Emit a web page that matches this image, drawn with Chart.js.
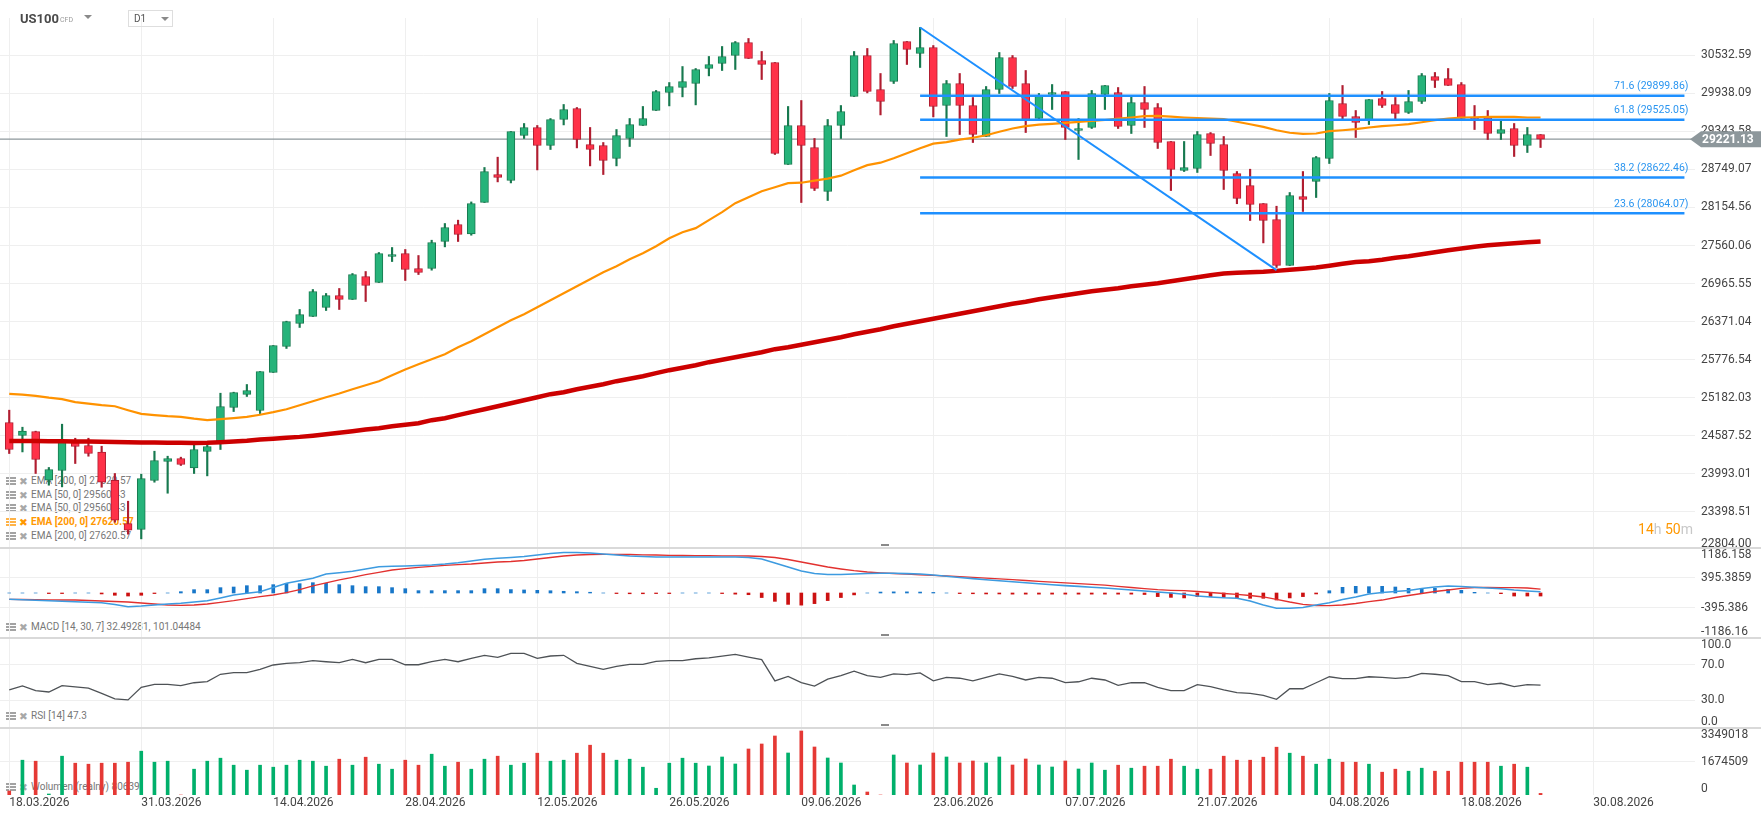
<!DOCTYPE html>
<html>
<head>
<meta charset="utf-8">
<script src="https://cdn.jsdelivr.net/npm/chart.js@4.4.1/dist/chart.umd.min.js"></script>
<style>
  html, body { margin: 0; padding: 0; background: #fff; }
  body { width: 1761px; height: 820px; position: relative; overflow: hidden; font-family: Roboto, "DejaVu Sans", sans-serif; }
  canvas { position: absolute; left: 0; z-index: 1; }
  .leg { position: absolute; left: 0; height: 12px; line-height: 12px; font-size: 10px; color: #777; white-space: nowrap; z-index: 0; }
  .leg .ic { position: absolute; left: 6px; top: 2px; width: 10px; height: 2px; background: #a3a3a3; box-shadow: 0 3px 0 #a3a3a3, 0 6px 0 #a3a3a3; }
  .leg .x { position: absolute; left: 19px; top: 0; font-family: "DejaVu Sans"; font-size: 10.5px; color: #a8a8a8; }
  .leg .t { position: absolute; left: 31px; }
  .leg.on .t, .leg.on .x { color: #ff9800; font-weight: bold; }
  .leg.on .ic { background: #ffb347; box-shadow: 0 3px 0 #ffb347, 0 6px 0 #ffb347; }
  .sep { position: absolute; left: 0; width: 1761px; height: 2px; background: #d9d9d9; z-index: 2; }
  .grip { position: absolute; left: 881px; width: 8px; height: 2px; background: #8a8a8a; z-index: 2; }
  #head { position: absolute; left: 20px; top: 8px; z-index: 2; color: #4a4a4a; }
  #sym { font-weight: bold; font-size: 13px; }
  #cfd { position: absolute; left: 40px; top: 8px; font-size: 7px; color: #999; }
  .tri { position: absolute; width: 0; height: 0; border-left: 4px solid transparent; border-right: 4px solid transparent; border-top: 4px solid #8a8a8a; }
  #tf { position: absolute; left: 128px; top: 10px; width: 43px; height: 15px; border: 1px solid #dedede; z-index: 2; font-size: 10px; color: #555; }
  #timer { position: absolute; right: 68px; top: 521px; font-size: 14px; z-index: 2; color: #c8c8c8; }
  #timer b { font-weight: normal; color: #ff9800; }
</style>
</head>
<body>
<div id="head"><span id="sym">US100</span><span id="cfd">CFD</span><span class="tri" style="left:64px;top:7px"></span></div>
<div id="tf"><span style="position:absolute;left:5px;top:2px">D1</span><span class="tri" style="left:32px;top:6px"></span></div>

<div class="leg" style="top:475px"><span class="ic"></span><span class="x">✖</span><span class="t">EMA [200, 0] 27620.57</span></div>
<div class="leg" style="top:489px"><span class="ic"></span><span class="x">✖</span><span class="t">EMA [50, 0] 29560.43</span></div>
<div class="leg" style="top:502px"><span class="ic"></span><span class="x">✖</span><span class="t">EMA [50, 0] 29560.43</span></div>
<div class="leg on" style="top:516px"><span class="ic"></span><span class="x">✖</span><span class="t">EMA [200, 0] 27620.57</span></div>
<div class="leg" style="top:530px"><span class="ic"></span><span class="x">✖</span><span class="t">EMA [200, 0] 27620.57</span></div>
<div class="leg" style="top:621px"><span class="ic"></span><span class="x">✖</span><span class="t">MACD [14, 30, 7] 32.49281, 101.04484</span></div>
<div class="leg" style="top:710px"><span class="ic"></span><span class="x">✖</span><span class="t">RSI [14] 47.3</span></div>
<div class="leg" style="top:781px"><span class="ic"></span><span class="x">✖</span><span class="t">Wolumen (realny) 80639</span></div>

<div id="timer"><b>14</b>h <b>50</b>m</div>

<canvas id="cMain" width="1761" height="532" style="top:18px"></canvas>
<canvas id="cMacd" width="1761" height="90" style="top:548px"></canvas>
<canvas id="cRsi" width="1761" height="90" style="top:638px"></canvas>
<canvas id="cVol" width="1761" height="92" style="top:728px"></canvas>

<div class="sep" style="top:547px"></div>
<div class="sep" style="top:637px"></div>
<div class="sep" style="top:727px"></div>
<div class="grip" style="top:544px"></div>
<div class="grip" style="top:634px"></div>
<div class="grip" style="top:724px"></div>

<script>
// date labels sit on every 10th candle
const dateLabels = ["18.03.2026", "31.03.2026", "14.04.2026", "28.04.2026", "12.05.2026", "26.05.2026",
  "09.06.2026", "23.06.2026", "07.07.2026", "21.07.2026", "04.08.2026", "18.08.2026", "30.08.2026"];

const opens = [24796,24593,24655,23894,24046,24499,24436,24332,23894,23218,
  23124,23890,24187,24233,24087,24343,24468,25030,25233,24983,
  25577,25983,26342,26451,26592,26779,26717,27076,26982,27389,
  27436,27201,27201,27623,27888,27742,28232,28669,28576,29279,
  29404,29122,29529,29700,29138,29122,28919,29232,29435,29669,
  29950,30028,30091,30325,30403,30528,30731,30450,30419,28826,
  29435,29091,28404,29435,29888,30528,29997,30122,30747,30559,
  30653,29747,30091,29747,29263,29997,30497,30091,29544,29919,
  29966,29357,29404,29919,29950,29435,29794,29716,29185,28732,
  28763,29310,29138,28685,28498,28216,27967,27248,28326,28560,
  28919,29778,29575,29513,29857,29763,29638,29810,30200,30169,
  30075,29560,29560,29310,29388,29122,29294];
const highs = [24988,24722,24660,24093,24769,24550,24550,24425,23999,23566,
  23988,24347,24269,24254,24457,24483,25253,25269,25389,25592,
  25998,26378,26561,26873,26811,26889,27123,27154,27451,27529,
  27498,27404,27643,27904,27956,28241,28779,28940,29341,29466,
  29435,29544,29763,29716,29404,29169,29372,29544,29732,29982,
  30106,30356,30325,30513,30669,30747,30794,30591,30419,29732,
  29825,29232,29529,29747,30591,30638,30247,30763,30747,30966,
  30684,30138,30247,29872,30044,30575,30528,30294,29935,30075,
  29966,29544,29982,30060,30028,29903,30044,29778,29185,29185,
  29341,29325,29263,28716,28752,28216,28174,28388,28716,28951,
  29935,30060,29669,29841,29966,29872,29982,30247,30263,30325,
  30106,29747,29669,29529,29466,29404,29294];
const lows = [24311,24336,23999,23816,23790,24155,24269,23785,23238,23051,
  22978,23863,23691,24124,23999,23962,24374,24967,25202,24936,
  25577,25952,26280,26451,26545,26561,26717,26686,26982,27310,
  27014,27107,27175,27539,27623,27721,28232,28554,28538,29232,
  28741,29060,29444,29085,28804,28669,28804,29107,29435,29669,
  29741,29882,29757,30210,30294,30310,30481,30153,28982,28826,
  28232,28419,28263,29232,29888,29944,29600,30091,30388,30341,
  29569,29263,29294,29169,29263,29935,30013,29325,29529,29685,
  29216,28904,29388,29685,29388,29310,29404,29076,28419,28716,
  28701,28966,28435,28213,27951,27601,27217,27248,28092,28310,
  28841,29529,29247,29450,29716,29538,29622,29778,30028,30060,
  29529,29372,29216,29216,28951,29013,29091];
const closes = [24374,24660,24218,24062,24515,24421,24311,23863,23270,23113,
  23921,24202,24233,24140,24374,24421,25046,25264,25296,25592,
  25998,26373,26483,26842,26779,26717,27107,26936,27436,27420,
  27186,27139,27607,27842,27732,28216,28716,28623,29341,29404,
  29122,29529,29685,29216,29060,28888,29279,29450,29544,29966,
  30044,30122,30310,30388,30513,30731,30481,30388,28997,29435,
  29122,28451,29435,29654,30528,29966,29810,30716,30622,30653,
  29732,30091,29747,29294,29997,30497,30044,29529,29903,29950,
  29404,29388,29935,30060,29419,29794,29685,29169,28748,28779,
  29294,29154,28732,28295,28201,27951,27248,28341,28279,28935,
  29825,29575,29482,29841,29747,29622,29810,30216,30138,30060,
  29544,29529,29310,29372,29122,29294,29221.13];

const ema50 = [25242,25230,25211,25183,25160,25113,25089,25066,25050,24988,
  24930,24910,24894,24883,24855,24832,24847,24863,24883,24917,
  24957,25003,25066,25128,25191,25249,25316,25378,25441,25534,
  25623,25706,25784,25863,25972,26066,26175,26284,26394,26487,
  26597,26706,26815,26925,27034,27143,27237,27346,27440,27549,
  27674,27768,27831,27956,28081,28221,28315,28409,28471,28534,
  28541,28573,28604,28651,28737,28815,28854,28924,29002,29080,
  29151,29174,29213,29244,29283,29338,29388,29424,29447,29460,
  29475,29491,29505,29521,29544,29560,29580,29585,29572,29560,
  29552,29544,29533,29494,29455,29413,29361,29322,29304,29310,
  29346,29361,29377,29404,29424,29439,29455,29486,29518,29541,
  29560,29564,29569,29569,29569,29560,29560];
const ema200 = [24508,24507,24505,24504,24504,24500,24497,24494,24491,24488,
  24485,24482,24480,24479,24477,24480,24488,24499,24511,24530,
  24543,24558,24571,24590,24613,24636,24660,24686,24707,24738,
  24761,24785,24832,24863,24910,24957,25003,25050,25097,25144,
  25191,25238,25269,25316,25355,25394,25441,25480,25519,25566,
  25613,25652,25691,25738,25777,25816,25855,25894,25941,25972,
  26011,26050,26089,26128,26175,26214,26253,26300,26339,26378,
  26417,26456,26495,26534,26573,26612,26651,26683,26722,26753,
  26784,26815,26847,26870,26893,26925,26948,26972,27003,27034,
  27065,27096,27123,27136,27143,27151,27164,27182,27198,27217,
  27245,27276,27304,27315,27339,27370,27393,27425,27456,27487,
  27514,27542,27565,27581,27596,27612,27621];

const macdLine = [-166,-179,-190,-203,-216,-229,-243,-256,-303,-361,
  -343,-316,-290,-272,-237,-203,-132,-53,-8,34,
  145,256,322,388,501,535,572,633,693,704,
  712,725,738,764,799,844,888,915,936,962,
  1002,1041,1068,1068,1054,1028,1002,975,962,949,
  949,949,949,949,949,949,936,896,791,685,
  580,514,488,488,501,514,519,519,511,501,
  474,443,409,380,351,322,295,269,243,219,
  195,174,153,132,105,79,53,26,0,-34,
  -79,-105,-127,-140,-211,-316,-403,-403,-382,-316,
  -256,-171,-105,-26,13,40,66,119,158,185,
  171,150,132,113,79,53,32.49];
const signalLine = [-166,-171,-177,-182,-185,-185,-198,-211,-224,-237,
  -264,-290,-316,-324,-316,-290,-245,-203,-150,-98,
  -53,8,92,185,264,343,414,482,546,606,
  643,677,704,730,746,764,791,817,830,857,
  896,936,975,1002,1015,1020,1020,1015,1007,1002,
  994,989,986,983,981,981,975,962,936,883,
  817,751,685,633,588,554,532,514,496,480,
  464,448,430,411,393,372,351,330,308,287,
  266,248,229,206,177,145,113,87,71,61,
  40,13,-13,-34,-66,-105,-166,-237,-298,-330,
  -335,-316,-277,-229,-185,-119,-66,-13,40,79,
  124,145,145,140,140,132,101.04];
const macdHist = [0,0,0,-15,-15,0,0,-25,-60,-80,
  -60,-15,0,35,88,88,141,158,193,193,
  220,255,246,272,255,220,193,167,167,141,
  114,62,62,62,62,62,114,114,90,80,
  70,60,45,35,20,0,-15,-20,-20,-15,
  -15,0,0,0,-15,-30,-45,-120,-220,-300,
  -320,-280,-200,-120,-50,0,25,30,30,25,
  15,0,-15,-20,-25,-25,-30,-30,-30,-30,
  -30,-30,-30,-30,-30,-30,-40,-95,-115,-130,
  -95,-95,-115,-130,-140,-140,-185,-130,-95,-25,
  60,150,176,167,176,158,123,123,123,97,
  70,18,0,-18,-80,-80,-80];

const rsiValues = [41.7,46.2,40.9,39.4,46.6,45.1,43.9,37.9,31.5,30.4,
  44.7,48.1,48.1,46.6,49.9,51.1,59.5,61.3,61.3,65.1,
  70,71.9,72.6,74.9,73.7,72.6,76.4,72.6,76.4,76.4,
  70.3,70.3,73.7,76.4,73.7,77.6,81,78.7,83.2,83.2,
  77.6,80.2,81,71.9,68.5,65.1,68.5,70.8,70.8,74.2,
  75,75,77.1,78,80,82,79,76,52,57,
  50,46,54,58,63,58,56,60,59,61,
  52,56,55,52,56,60,57,53,56,55,
  50,51,55,53,47,49.9,49.9,44.7,40.9,40.9,
  47.7,45.4,41.7,38.6,37.9,35.7,31.1,43.1,43.1,49.9,
  56.7,54.5,54.5,56.7,56,54.9,56,60.6,59.5,57.9,
  51.1,51.1,47.7,49.3,45.4,47.7,47.3];

const volumes = [200000,1740000,1690000,50000,1940000,1590000,1540000,1590000,1590000,1640000,
  2190000,1640000,1690000,0,1290000,1690000,1840000,1490000,1240000,1490000,
  1390000,1490000,1740000,1690000,1440000,1790000,1490000,1890000,1540000,1290000,
  1740000,1490000,2040000,1440000,1640000,1290000,1790000,1940000,1490000,1590000,
  2090000,1690000,1740000,2090000,2490000,2090000,1740000,1790000,1390000,336000,
  1590000,1840000,1590000,1450000,1900000,1550000,2300000,2550000,2950000,2100000,
  3200000,2400000,1850000,1600000,500000,150000,0,2000000,1600000,1500000,
  2100000,1900000,1600000,1700000,1600000,1900000,1500000,1800000,1500000,1400000,
  1700000,1300000,1600000,1240000,1490000,1340000,1440000,1440000,1790000,1440000,
  1290000,1290000,1940000,1740000,1740000,1890000,2390000,2090000,1940000,1540000,
  1790000,1640000,1640000,1540000,1140000,1290000,1190000,1340000,1190000,1190000,
  1640000,1640000,1640000,1440000,1540000,1390000,80639];

const priceTicks = [22804.00, 23398.51, 23993.01, 24587.52, 25182.03, 25776.54, 26371.04,
  26965.55, 27560.06, 28154.56, 28749.07, 29343.58, 29938.09, 30532.59];
const macdTicks = [1186.158, 395.3859, -395.386, -1186.16];
const rsiTicks = [100, 70, 30, 0];
const volTicks = [3349018, 1674509, 0];

const fibLevels = [
  { pct: "71.6", value: 29899.86 },
  { pct: "61.8", value: 29525.05 },
  { pct: "38.2", value: 28622.46 },
  { pct: "23.6", value: 28064.07 }
];
const fibFrom = 69, fibTo = 126.9;
const trendLine = [{ x: 69, y: 30966 }, { x: 96, y: 27175 }];
const lastPrice = 29221.13;

const GREEN = "#26b37a", GREEN_EDGE = "#17794f", RED = "#ff3148", RED_EDGE = "#b01d30";
const GRID = "#efefef";
const idx = opens.map((_, i) => i);
const isUp = i => closes[i] >= opens[i];

Chart.defaults.font.family = "Roboto";

// right hand labels, kept inside their panel like the original
const axisLabels = {
  id: "axisLabels",
  afterDraw(chart, args, opts) {
    const { ctx, chartArea } = chart;
    const y = chart.scales.y;
    ctx.save();
    ctx.font = "12px Roboto";
    ctx.fillStyle = "#444";
    ctx.textAlign = "left";
    ctx.textBaseline = "middle";
    opts.values.forEach((v, i) => {
      let py = y.getPixelForValue(v);
      py = Math.min(Math.max(py, chartArea.top + 7), chartArea.bottom - 6);
      ctx.fillText(opts.labels[i], chartArea.right + 6, py);
    });
    ctx.restore();
  }
};

const mainExtras = {
  id: "mainExtras",
  afterDraw(chart) {
    const { ctx } = chart;
    const x = chart.scales.x, y = chart.scales.y;
    ctx.save();
    ctx.font = "10.5px Roboto";
    ctx.fillStyle = "#2a95f0";
    ctx.textAlign = "right";
    ctx.textBaseline = "middle";
    fibLevels.forEach(f => {
      ctx.fillText(f.pct + " (" + f.value.toFixed(2) + ")", x.getPixelForValue(fibTo) + 4, y.getPixelForValue(f.value) - 9);
    });
    // price tag
    const py = y.getPixelForValue(lastPrice);
    const left = chart.chartArea.right - 5;
    ctx.fillStyle = "#8d979b";
    ctx.beginPath();
    ctx.moveTo(left, py);
    ctx.lineTo(left + 11, py - 8);
    ctx.lineTo(chart.width, py - 8);
    ctx.lineTo(chart.width, py + 8);
    ctx.lineTo(left + 11, py + 8);
    ctx.closePath();
    ctx.fill();
    ctx.fillStyle = "#fff";
    ctx.font = "bold 12px Roboto";
    ctx.textAlign = "left";
    ctx.fillText(lastPrice.toFixed(2), left + 12, py + 0.5);
    ctx.restore();
  }
};

function xAxis(showLabels) {
  return {
    type: "linear", min: -0.7, max: 127.7, offset: false,
    grid: { color: GRID, drawTicks: false, offset: false },
    border: { display: false },
    afterBuildTicks: s => { s.ticks = dateLabels.map((_, k) => ({ value: k * 10 })); },
    ticks: showLabels
      ? { display: true, align: "start", maxRotation: 0, autoSkip: false, padding: 1, color: "#444",
          font: { size: 12 }, callback: v => dateLabels[Math.round(v / 10)] }
      : { display: false },
    afterFit: s => { s.height = showLabels ? 25 : 0; }
  };
}

function yAxis(min, max, gridValues) {
  return {
    position: "right", min, max,
    grid: { color: GRID, drawTicks: false },
    border: { display: false },
    ticks: { display: false },
    afterBuildTicks: s => { s.ticks = gridValues.map(v => ({ value: v })); },
    afterFit: s => { s.width = 66; }
  };
}

function baseOptions(labelValues, labelTexts) {
  return {
    responsive: false, animation: false, events: [],
    layout: { padding: 0 },
    plugins: {
      legend: { display: false }, tooltip: { enabled: false },
      axisLabels: { values: labelValues, labels: labelTexts }
    }
  };
}

function lineSet(data, color, width, order) {
  return { type: "line", data, borderColor: color, borderWidth: width, pointRadius: 0, tension: 0, fill: false, order };
}

// main price panel
const mainOpts = baseOptions(priceTicks, priceTicks.map(v => v.toFixed(2)));
mainOpts.scales = { x: xAxis(false), y: yAxis(22804, 22804 + 532 * 594.5085 / 38.06, priceTicks) };
new Chart(document.getElementById("cMain"), {
  type: "bar",
  data: {
    datasets: [
      lineSet([{ x: -0.7, y: lastPrice }, { x: 127.7, y: lastPrice }], "#8d979b", 1.3, 10),
      { data: idx.map(i => ({ x: i, y: [lows[i], highs[i]] })), barThickness: 1.5, grouped: false,
        backgroundColor: c => isUp(c.dataIndex) ? GREEN_EDGE : RED_EDGE, order: 6 },
      { data: idx.map(i => ({ x: i, y: [opens[i], closes[i]] })), barThickness: 8, grouped: false, minBarLength: 1,
        backgroundColor: c => isUp(c.dataIndex) ? GREEN : RED,
        borderColor: c => isUp(c.dataIndex) ? GREEN_EDGE : RED_EDGE,
        borderWidth: 1, borderSkipped: false, order: 5 },
      lineSet(idx.map(i => ({ x: i, y: ema200[i] })), "#cc0000", 4.5, 4),
      lineSet(idx.map(i => ({ x: i, y: ema50[i] })), "#ff9200", 2.2, 3),
      ...fibLevels.map(f => lineSet([{ x: fibFrom, y: f.value }, { x: fibTo, y: f.value }], "#1e90ff", 2.5, 2)),
      lineSet(trendLine, "#1e90ff", 2, 1)
    ]
  },
  options: mainOpts,
  plugins: [axisLabels, mainExtras]
});

// MACD panel
const macdOpts = baseOptions(macdTicks, macdTicks.map(String));
macdOpts.scales = { x: xAxis(false), y: yAxis(-1186.16, 1186.158, macdTicks.slice(1, -1)) };
new Chart(document.getElementById("cMacd"), {
  type: "bar",
  data: {
    datasets: [
      { data: idx.map(i => ({ x: i, y: macdHist[i] })), barThickness: 3, grouped: false,
        backgroundColor: c => macdHist[c.dataIndex] >= 0 ? "#1877c9" : "#cc1111", order: 3 },
      lineSet(idx.map(i => ({ x: i, y: signalLine[i] })), "#e2312f", 1.3, 2),
      lineSet(idx.map(i => ({ x: i, y: macdLine[i] })), "#3d9be0", 1.6, 1)
    ]
  },
  options: macdOpts,
  plugins: [axisLabels]
});

// RSI panel
const rsiOpts = baseOptions(rsiTicks, rsiTicks.map(v => v.toFixed(1)));
rsiOpts.scales = { x: xAxis(false), y: yAxis(-1.4, 100.6, [70, 30]) };
new Chart(document.getElementById("cRsi"), {
  type: "line",
  data: { datasets: [lineSet(idx.map(i => ({ x: i, y: rsiValues[i] })), "#4e5256", 1.3, 1)] },
  options: rsiOpts,
  plugins: [axisLabels]
});

// volume panel with the date axis
const volOpts = baseOptions(volTicks, volTicks.map(String));
volOpts.scales = { x: xAxis(true), y: yAxis(0, 3349018, [1674509]) };
new Chart(document.getElementById("cVol"), {
  type: "bar",
  data: {
    datasets: [{ data: idx.map(i => ({ x: i, y: volumes[i] })), barThickness: 3, grouped: false,
      backgroundColor: c => isUp(c.dataIndex) ? "#00b06b" : "#e53935" }]
  },
  options: volOpts,
  plugins: [axisLabels]
});
</script>
</body>
</html>
